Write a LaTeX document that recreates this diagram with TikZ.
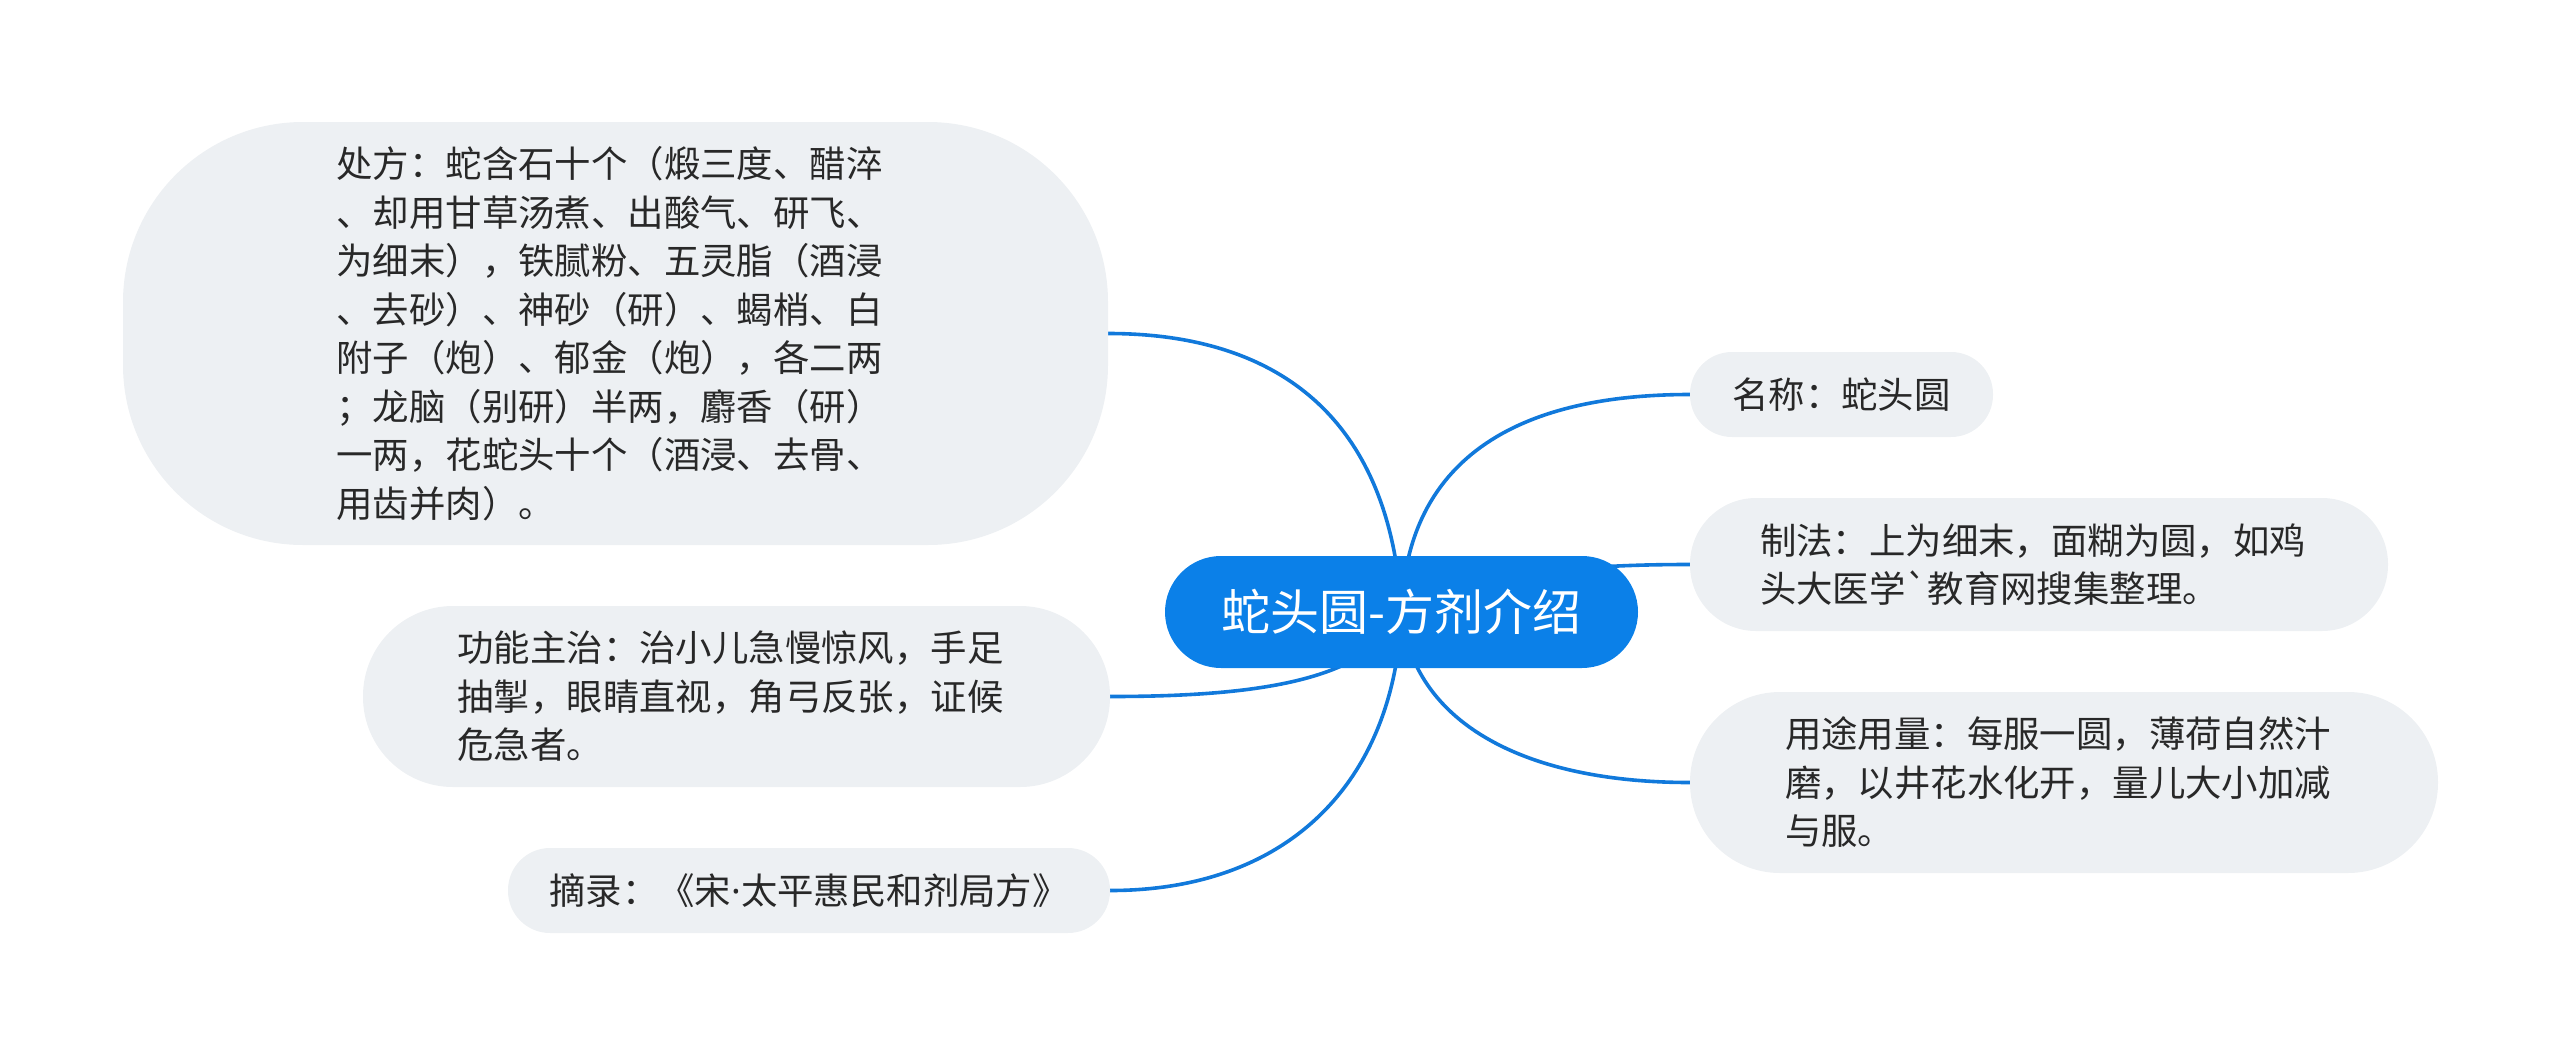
\documentclass[tikz,border=0pt]{standalone}
\usepackage{fontspec}
\usepackage{xcolor}
\usepackage{tikz}
\usetikzlibrary{backgrounds}
\newfontfamily\cjk{Noto Sans CJK SC}
\newfontfamily\latn{Noto Sans}
\definecolor{rootblue}{RGB}{11,128,232}
\definecolor{branchblue}{RGB}{17,121,219}
\definecolor{leafgray}{RGB}{237,240,243}
\definecolor{leaftext}{RGB}{40,40,40}

\begin{document}
\begin{tikzpicture}[
  x=1pt, y=-1pt,
  root/.style={fill=rootblue, text=white, rounded corners=56pt, inner sep=0,
               minimum width=473pt, minimum height=112pt,
               font=\cjk\fontsize{49}{58}\selectfont},
  leaf/.style={fill=leafgray, text=leaftext, inner sep=0, align=left,
               font=\cjk\fontsize{36.4}{48.5}\selectfont},
  branch/.style={draw=branchblue, line width=3.6pt},
]
\useasboundingbox (0,0) rectangle (2560,1055);
% centre topic
\node[root] (root) at (1401.5,612) {蛇头圆-方剂介绍};
% ---- left side
\node[leaf, minimum width=985pt, minimum height=423pt, rounded corners=180pt,
      text width=558pt] (chufang) at (615.5,333.5)
  {处方：蛇含石十个（煅三度、醋淬\\
   、却用甘草汤煮、出酸气、研飞、\\
   为细末），铁腻粉、五灵脂（酒浸\\
   、去砂）、神砂（研）、蝎梢、白\\
   附子（炮）、郁金（炮），各二两\\
   ；龙脑（别研）半两，麝香（研）\\
   一两，花蛇头十个（酒浸、去骨、\\
   用齿并肉）。};
\node[leaf, minimum width=747pt, minimum height=181pt, rounded corners=90pt,
      text width=558pt] (gongneng) at (736.5,696.5)
  {功能主治：治小儿急慢惊风，手足\\
   抽掣，眼睛直视，角弓反张，证候\\
   危急者。};
\node[leaf, minimum width=602pt, minimum height=85pt, rounded corners=42pt]
  (zhailu) at (809,890.5) {摘录：《宋{\latn ·}太平惠民和剂局方》};
% ---- right side
\node[leaf, minimum width=303pt, minimum height=85pt, rounded corners=42pt]
  (mingcheng) at (1841.5,394.5) {名称：蛇头圆};
\node[leaf, minimum width=698pt, minimum height=133pt, rounded corners=66pt,
      text width=558pt] (zhifa) at (2039,564.5)
  {制法：上为细末，面糊为圆，如鸡\\
   头大医学`教育网搜集整理。};
\node[leaf, minimum width=748pt, minimum height=181pt, rounded corners=90pt,
      text width=558pt] (yongtu) at (2064,782.5)
  {用途用量：每服一圆，薄荷自然汁\\
   磨，以井花水化开，量儿大小加减\\
   与服。};
% branches run under the centre topic
\begin{pgfonlayer}{background}
\foreach \leafname/\out/\in in {chufang.east/{172,0}/{-11,-192},
                                gongneng.east/{150,0}/{-31.5,68},
                                zhailu.east/{180,0}/{-6.5,168},
                                mingcheng.west/{-200,0}/{4,-132},
                                zhifa.west/{-170,0}/{78,-27},
                                yongtu.west/{-170,0}/{10.5,108}} {
  \draw[branch] (\leafname) .. controls +(\out) and +(\in) .. (root.center);
}
\end{pgfonlayer}
\end{tikzpicture}
\end{document}
